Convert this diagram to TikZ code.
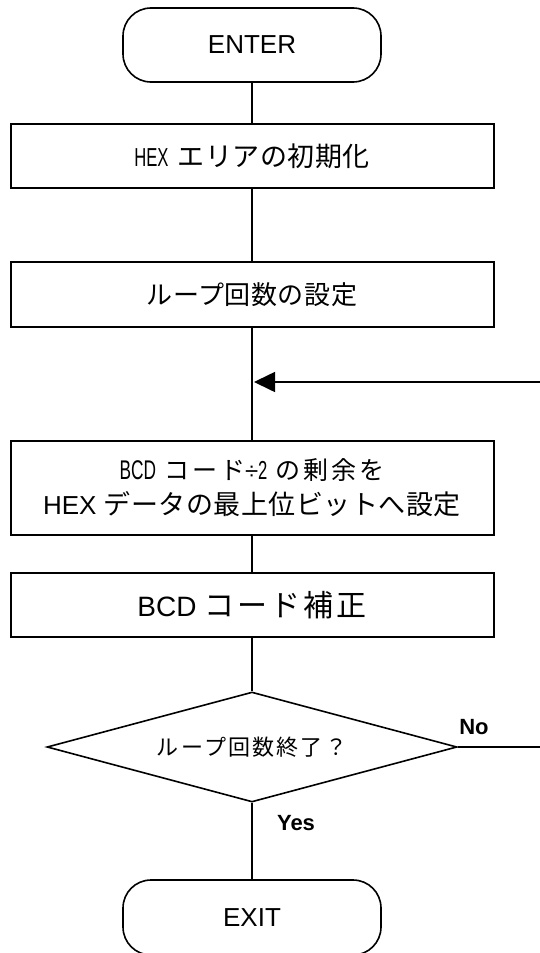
\documentclass[tikz,border=0pt]{standalone}
\usepackage{fontspec}
\usepackage{graphicx}
\setmainfont{Liberation Sans}
\newfontfamily\jp{Noto Sans CJK JP}
\usetikzlibrary{shapes.geometric,arrows.meta}
\newcommand{\jps}[2]{\fontsize{#1}{#1}\selectfont\jp\addfontfeature{LetterSpace=#2}}
\newcommand{\lt}[2]{{\normalfont\fontsize{#1}{#1}\selectfont #2}}
\newcommand{\cond}[2]{\scalebox{0.64}[1]{\normalfont\fontsize{#1}{#1}\selectfont #2}}
\begin{document}
\begin{tikzpicture}[x=1pt,y=-1pt,
  box/.style={draw, line width=2pt, minimum width=483pt, inner sep=0pt, align=center},
  term/.style={draw, line width=1.6pt, rounded corners=28pt, minimum width=258pt,
    minimum height=74pt, inner sep=0pt, font=\fontsize{26}{26}\selectfont},
  dec/.style={draw, diamond, line width=1.6pt, minimum width=410pt, minimum height=110pt,
    inner sep=0pt, aspect=3.7},
  conn/.style={line width=1.6pt},
  lbl/.style={font=\fontsize{22}{22}\selectfont\bfseries, inner sep=0pt}]
\clip (0,0) rectangle (540,953);
\node[term] (enter) at (252,45) {ENTER};
\node[box, minimum height=64pt] (b1) at (252,156)
  {\cond{26}{HEX}\hspace{9pt}\jps{27}{2}エリアの初期化};
\node[box, minimum height=65pt] (b2) at (252,294.5)
  {\jps{26}{2}ループ回数の設定};
\node[box, minimum height=94pt] (b3) at (252,488)
  {\cond{27}{BCD}\hspace{8pt}\jps{25}{12}コード\lt{24}{÷}\cond{26}{2}\hspace{8pt}の剰余を\\[9pt]
   \lt{26}{HEX}\hspace{7pt}\jps{27}{2}データの最上位ビットへ設定};
\node[box, minimum height=64pt] (b4) at (252,605)
  {\lt{28}{BCD}\hspace{8pt}\jps{30}{10}コード補正};
\node[dec] (d) at (252,747) {\jps{22}{10}ループ回数終了？};
\node[term, minimum height=75pt] (exit) at (252,917.5) {EXIT};
\coordinate (m) at (254,382);
\coordinate (rc) at (545,747);
\draw[conn] (enter) -- (b1);
\draw[conn] (b1) -- (b2);
\draw[conn] (b2) -- (b3);
\draw[conn] (b3) -- (b4);
\draw[conn] (b4) -- (d);
\draw[conn] (d) -- (exit);
\draw[conn, -{Triangle[length=21pt,width=20pt]}] (d.east) -- (rc) |- (m);
\node[lbl] (no) at (474,727) {No};
\node[lbl] (yes) at (296,823) {Yes};
\end{tikzpicture}
\end{document}
